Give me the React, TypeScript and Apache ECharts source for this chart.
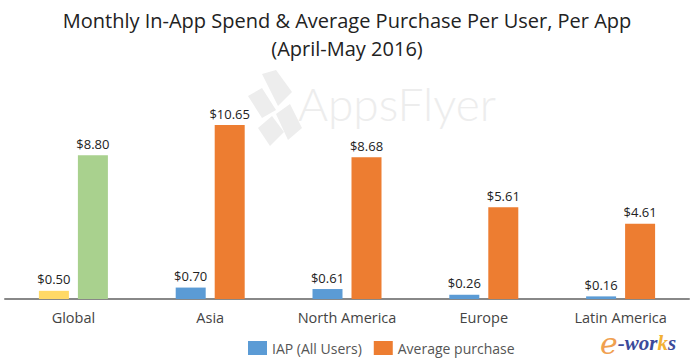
import React, { useEffect, useRef } from "react";
import * as echarts from "echarts";

const titleLine1 = "Monthly In-App Spend & Average Purchase Per User, Per App";
const titleLine2 = "(April-May 2016)";
const categories = ["Global", "Asia", "North America", "Europe", "Latin America"];
const seriesNames = ["IAP (All Users)", "Average purchase"];
const iapValues = [0.5, 0.7, 0.61, 0.26, 0.16];
const avgPurchaseValues = [8.8, 10.65, 8.68, 5.61, 4.61];

const BLUE = "#5b9bd5";
const ORANGE = "#ed7d31";
const YELLOW = "#ffd966";
const GREEN = "#a9d18e";
const WM = "#ededed";

export default function App() {
  const ref = useRef<HTMLDivElement>(null);
  useEffect(() => {
    if (!ref.current) return;
    const chart = echarts.init(ref.current, null, { renderer: "svg" });
    const labelStyle = {
      show: true,
      position: "top",
      distance: 5,
      color: "#222",
      fontSize: 13,
      fontFamily: "Open Sans",
      formatter: (p: any) => "$" + Number(p.value).toFixed(2),
    };
    chart.setOption({
      animation: false,
      backgroundColor: "#ffffff",
      title: [
        {
          text: titleLine1,
          left: "center",
          top: 5,
          textStyle: { fontSize: 20, fontWeight: "normal", color: "#222", fontFamily: "Open Sans" },
        },
        {
          text: titleLine2,
          left: "center",
          top: 33,
          textStyle: { fontSize: 20, fontWeight: "normal", color: "#222", fontFamily: "Open Sans" },
        },
      ],
      legend: {
        data: seriesNames,
        left: 243,
        top: 336,
        itemWidth: 19,
        itemHeight: 14,
        itemGap: 12,
        icon: "rect",
        textStyle: { fontSize: 14, color: "#555", fontFamily: "Open Sans" },
      },
      grid: { left: 5, right: 5, top: 103, bottom: 60, containLabel: false },
      xAxis: {
        type: "category",
        data: categories,
        axisLine: { show: true, lineStyle: { color: "#888", width: 2 } },
        axisTick: { show: false },
        axisLabel: { color: "#444", fontSize: 14.5, margin: 11, fontFamily: "Open Sans", interval: 0 },
      },
      yAxis: {
        type: "value",
        min: 0,
        max: 12,
        show: false,
        splitLine: { show: false },
      },
      graphic: [
        {
          type: "group",
          z: 0,
          silent: true,
          children: [
            { type: "polygon", shape: { points: [[262, 74], [276, 70], [292, 92], [278, 106]] }, style: { fill: WM } },
            { type: "polygon", shape: { points: [[248, 96], [262, 88], [276, 110], [262, 118]] }, style: { fill: WM } },
            { type: "polygon", shape: { points: [[258, 128], [272, 116], [284, 132], [270, 146]] }, style: { fill: WM } },
            { type: "polygon", shape: { points: [[276, 114], [290, 104], [302, 128], [288, 140]] }, style: { fill: WM } },
            {
              type: "text",
              x: 298,
              y: 80,
              style: { text: "AppsFlyer", fontSize: 46, fontFamily: "Lato", fontWeight: 300, fill: WM },
            },
          ],
        },
        {
          type: "text",
          x: 600,
          y: 332,
          z: 10,
          style: {
            text: "{e|e}{w|-wor}{k|k}{w|s}",
            rich: {
              e: { fontSize: 30, lineHeight: 22, fontStyle: "italic", fontFamily: "DejaVu Serif", fill: "#f0a050" },
              w: { fontSize: 21, lineHeight: 22, fontStyle: "italic", fontWeight: "bold", fontFamily: "Liberation Serif", fill: "#3b4a9a" },
              k: { fontSize: 21, lineHeight: 22, fontStyle: "italic", fontWeight: "bold", fontFamily: "Liberation Serif", fill: "#f2b134" },
            },
          },
        },
      ],
      series: [
        {
          name: seriesNames[0],
          type: "bar",
          barWidth: 30,
          barGap: "30%",
          z: 2,
          itemStyle: { color: BLUE },
          label: labelStyle,
          data: iapValues.map((v, i) => (i === 0 ? { value: v, itemStyle: { color: YELLOW } } : v)),
        },
        {
          name: seriesNames[1],
          type: "bar",
          barWidth: 30,
          z: 2,
          itemStyle: { color: ORANGE },
          label: labelStyle,
          data: avgPurchaseValues.map((v, i) => (i === 0 ? { value: v, itemStyle: { color: GREEN } } : v)),
        },
      ],
    });
    return () => chart.dispose();
  }, []);
  return <div ref={ref} style={{ width: 694, height: 359, position: "absolute", left: 0, top: 0 }} />;
}
